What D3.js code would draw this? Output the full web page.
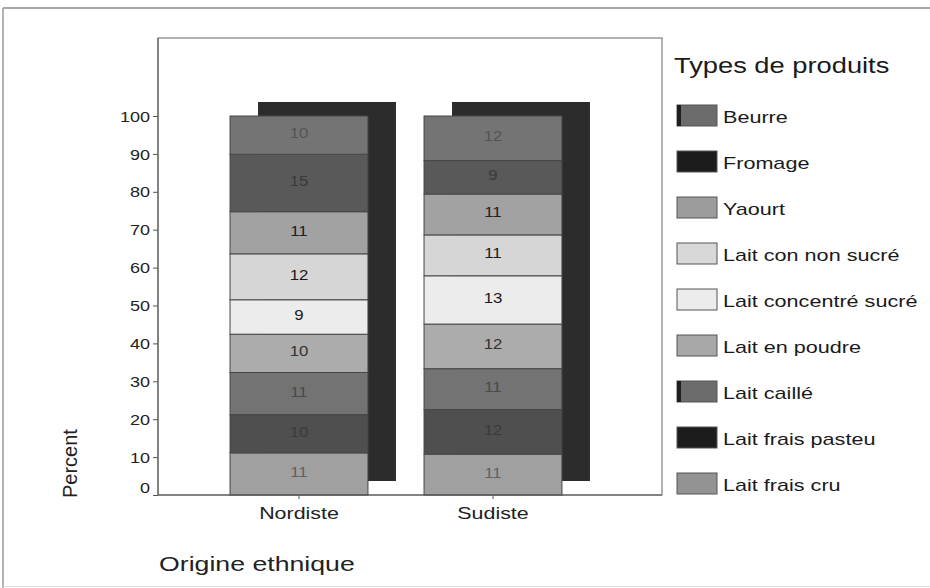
<!DOCTYPE html>
<html>
<head>
<meta charset="utf-8">
<script src="https://cdn.jsdelivr.net/npm/d3@7"></script>
<style>
  html, body { margin: 0; padding: 0; background: #fff; }
  svg { display: block; font-family: "Liberation Sans", Arial, sans-serif; }
</style>
</head>
<body>
<svg id="chart" width="930" height="588"></svg>
<script>
// Origins on the x axis
const categories = ["Nordiste", "Sudiste"];
// Product types, stacked from the bottom of each bar upward
const productTypes = [
  "Lait frais cru", "Lait frais pasteu", "Lait caillé", "Lait en poudre",
  "Lait concentré sucré", "Lait con non sucré", "Yaourt", "Fromage", "Beurre"
];
// Percent of each product type per origin (same order as productTypes)
const nordisteValues = [11, 10, 11, 10, 9, 12, 11, 15, 10];
const sudisteValues  = [11, 12, 11, 12, 13, 11, 11, 9, 12];
// Y axis ticks
const yTicks = [0, 10, 20, 30, 40, 50, 60, 70, 80, 90, 100];

const svg = d3.select("#chart");
const W = 930, H = 588;

// Grey shades per product type (bar fill, legend swatch, label)
const barFill = {
  "Lait frais cru": "#a0a0a0", "Lait frais pasteu": "#4f4f4f", "Lait caillé": "#737373",
  "Lait en poudre": "#acacac", "Lait concentré sucré": "#ececec", "Lait con non sucré": "#d6d6d6",
  "Yaourt": "#a2a2a2", "Fromage": "#595959", "Beurre": "#747474"
};
const swatchFill = {
  "Lait frais cru": "#939393", "Lait frais pasteu": "#1c1c1c", "Lait caillé": "#6c6c6c",
  "Lait en poudre": "#a8a8a8", "Lait concentré sucré": "#ececec", "Lait con non sucré": "#d8d8d8",
  "Yaourt": "#9c9c9c", "Fromage": "#1c1c1c", "Beurre": "#6c6c6c"
};
const labelFill = {
  "Lait frais cru": "#606060", "Lait frais pasteu": "#3a3a3a", "Lait caillé": "#4a4a4a",
  "Lait en poudre": "#333", "Lait concentré sucré": "#1a1a1a", "Lait con non sucré": "#1a1a1a",
  "Yaourt": "#222", "Fromage": "#3a3a3a", "Beurre": "#555"
};
const sideStripe = new Set(["Beurre", "Lait caillé"]);

// Horizontal widening applied to all horizontal text
const WIDEN = 1.26;
function widen(sel, k = WIDEN) {
  sel.each(function () {
    const w = this.getComputedTextLength();
    d3.select(this).attr("textLength", w * k).attr("lengthAdjust", "spacingAndGlyphs");
  });
}

// Outer panel border
svg.append("line").attr("x1", 3).attr("x2", W).attr("y1", 8).attr("y2", 8)
  .attr("stroke", "#8a8a8a").attr("stroke-width", 1.5);
svg.append("line").attr("x1", 3).attr("x2", 3).attr("y1", 8).attr("y2", H)
  .attr("stroke", "#9a9a9a").attr("stroke-width", 1.5);
svg.append("line").attr("x1", 3).attr("x2", W).attr("y1", 586.5).attr("y2", 586.5)
  .attr("stroke", "#dcdcdc").attr("stroke-width", 1);

// Plot frame
const frame = { left: 158, right: 662, top: 38, bottom: 495 };

const x = d3.scaleBand()
  .domain(categories)
  .range([202, 590])
  .paddingInner(0.289)
  .paddingOuter(0.1445);

const y = d3.scaleLinear().domain([0, 100]).range([495, 116]);

// Stack normalised to 100 percent per origin
const rows = categories.map((c, i) => {
  const vals = i === 0 ? nordisteValues : sudisteValues;
  const r = { category: c };
  productTypes.forEach((p, j) => r[p] = vals[j]);
  return r;
});
const series = d3.stack().keys(productTypes).offset(d3.stackOffsetExpand)(rows);

svg.append("rect")
  .attr("x", frame.left).attr("y", frame.top)
  .attr("width", frame.right - frame.left).attr("height", frame.bottom - frame.top)
  .attr("fill", "none").attr("stroke", "#666").attr("stroke-width", 1);

// Depth block behind each bar
const dx = 28, dy = -14;
svg.append("g").selectAll("rect").data(categories).join("rect")
  .attr("x", d => x(d) + dx)
  .attr("y", y(100) + dy)
  .attr("width", x.bandwidth())
  .attr("height", y(0) - y(100))
  .attr("fill", "#2c2c2c");

// Stacked segments
const segG = svg.append("g");
series.forEach(s => {
  segG.selectAll(null).data(s).join("rect")
    .attr("x", d => x(d.data.category))
    .attr("y", d => y(d[1] * 100))
    .attr("width", x.bandwidth())
    .attr("height", d => y(d[0] * 100) - y(d[1] * 100))
    .attr("fill", barFill[s.key])
    .attr("stroke", "#474747")
    .attr("stroke-width", 1);
});

// Segment value labels
const labG = svg.append("g")
  .attr("font-size", 14).attr("text-anchor", "middle");
series.forEach(s => {
  labG.selectAll(null).data(s).join("text")
    .attr("x", d => x(d.data.category) + x.bandwidth() / 2)
    .attr("y", d => (y(d[0] * 100) + y(d[1] * 100)) / 2 + 3)
    .attr("fill", labelFill[s.key])
    .text(d => d.data[s.key])
    .call(widen, 1.2);
});

// Y axis
const yAxis = svg.append("g")
  .attr("transform", `translate(${frame.left},0)`)
  .call(d3.axisLeft(y).tickValues(yTicks).tickSize(5).tickPadding(3).tickSizeOuter(0));
yAxis.select(".domain").remove();
yAxis.selectAll(".tick line").attr("stroke", "#555");
yAxis.selectAll(".tick text")
  .attr("font-size", 15).attr("fill", "#222")
  .attr("font-family", "Liberation Sans, Arial, sans-serif")
  .attr("dy", d => d === 0 ? "-0.2em" : "0.34em")
  .call(widen, 1.2);

// Left axis line and baseline
svg.append("line").attr("x1", frame.left).attr("x2", frame.left)
  .attr("y1", frame.top).attr("y2", frame.bottom).attr("stroke", "#555");
svg.append("line").attr("x1", frame.left).attr("x2", frame.right)
  .attr("y1", frame.bottom).attr("y2", frame.bottom).attr("stroke", "#555").attr("stroke-width", 1.2);

// X axis
const xAxis = svg.append("g")
  .attr("transform", `translate(0,${frame.bottom})`)
  .call(d3.axisBottom(x).tickSize(4).tickPadding(8).tickSizeOuter(0));
xAxis.select(".domain").remove();
xAxis.selectAll(".tick line").attr("stroke", "#555");
xAxis.selectAll(".tick text")
  .attr("font-size", 17).attr("fill", "#222")
  .attr("font-family", "Liberation Sans, Arial, sans-serif")
  .call(widen);

// Axis titles
svg.append("text")
  .attr("x", 159).attr("y", 571)
  .attr("font-size", 21).attr("fill", "#222")
  .text("Origine ethnique")
  .call(widen, 1.27);

svg.append("text")
  .attr("transform", "translate(77,498) rotate(-90)")
  .attr("font-size", 20).attr("fill", "#222")
  .text("Percent");

// Legend
const legendKeys = productTypes.slice().reverse();
svg.append("text")
  .attr("x", 674).attr("y", 73)
  .attr("font-size", 22).attr("fill", "#1a1a1a")
  .text("Types de produits")
  .call(widen, 1.24);

const lg = svg.append("g").selectAll("g").data(legendKeys).join("g")
  .attr("transform", (d, i) => `translate(677,${105 + i * 46})`);
lg.append("rect")
  .attr("width", 40).attr("height", 21)
  .attr("fill", d => swatchFill[d])
  .attr("stroke", "#555").attr("stroke-width", 1);
lg.filter(d => sideStripe.has(d)).append("rect")
  .attr("width", 4).attr("height", 21).attr("fill", "#1e1e1e");
lg.append("text")
  .attr("x", 46).attr("y", 18)
  .attr("font-size", 17).attr("fill", "#1a1a1a")
  .text(d => d)
  .call(widen, 1.27);
</script>
</body>
</html>
